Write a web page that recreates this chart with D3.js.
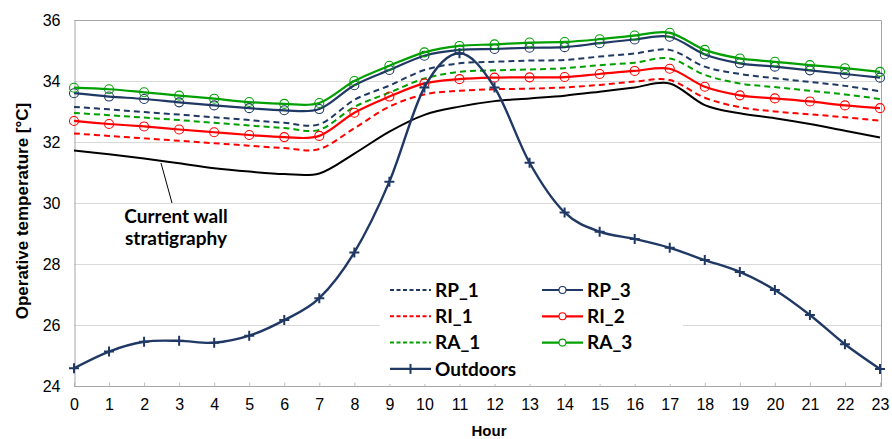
<!DOCTYPE html>
<html>
<head>
<meta charset="utf-8">
<script src="https://cdn.jsdelivr.net/npm/d3@7"></script>
<style>
  body { margin: 0; background: #fff; }
  .tick-label { font-family: "Liberation Sans", Arial, sans-serif; font-size: 16px; fill: #000; }
  .axis-title { font-family: "Liberation Sans", Arial, sans-serif; font-weight: bold; fill: #000; }
  .legend text, .note { font-family: Lato, "Open Sans", sans-serif; font-weight: bold; font-size: 19px; fill: #000; }
</style>
</head>
<body>
<div id="chart"></div>
<script>
// Data
var hours    = [0, 1, 2, 3, 4, 5, 6, 7, 8, 9, 10, 11, 12, 13, 14, 15, 16, 17, 18, 19, 20, 21, 22, 23];
var yTicks   = [24, 26, 28, 30, 32, 34, 36];
var current  = [31.72, 31.6, 31.46, 31.3, 31.14, 31.03, 30.95, 30.97, 31.62, 32.34, 32.89, 33.16, 33.34, 33.43, 33.52, 33.65, 33.79, 33.92, 33.21, 32.94, 32.78, 32.59, 32.37, 32.15];
var rp1      = [33.15, 33.07, 32.98, 32.9, 32.81, 32.72, 32.63, 32.58, 33.38, 33.85, 34.36, 34.58, 34.63, 34.67, 34.69, 34.8, 34.9, 35.02, 34.47, 34.23, 34.09, 33.97, 33.84, 33.66];
var ri1      = [32.28, 32.2, 32.12, 32.04, 31.96, 31.88, 31.8, 31.77, 32.45, 33.16, 33.56, 33.68, 33.73, 33.75, 33.79, 33.87, 33.98, 34.03, 33.45, 33.14, 33.0, 32.91, 32.81, 32.7];
var ra1      = [32.95, 32.88, 32.8, 32.72, 32.63, 32.54, 32.46, 32.4, 33.15, 33.62, 34.08, 34.3, 34.35, 34.38, 34.42, 34.52, 34.6, 34.74, 34.2, 33.92, 33.8, 33.68, 33.56, 33.41];
var rp3      = [33.6, 33.49, 33.41, 33.3, 33.2, 33.11, 33.04, 33.08, 33.86, 34.36, 34.83, 35.02, 35.05, 35.09, 35.11, 35.24, 35.36, 35.45, 34.87, 34.58, 34.47, 34.35, 34.23, 34.11];
var ri2      = [32.69, 32.59, 32.51, 32.41, 32.32, 32.23, 32.16, 32.2, 32.96, 33.49, 33.92, 34.06, 34.11, 34.12, 34.13, 34.23, 34.33, 34.4, 33.81, 33.53, 33.43, 33.33, 33.2, 33.11];
var ra3      = [33.78, 33.73, 33.63, 33.52, 33.42, 33.31, 33.25, 33.28, 34.0, 34.5, 34.94, 35.15, 35.2, 35.26, 35.28, 35.37, 35.49, 35.58, 35.02, 34.74, 34.63, 34.52, 34.42, 34.3];
var outdoors = [24.58, 25.13, 25.45, 25.48, 25.42, 25.65, 26.16, 26.88, 28.38, 30.7, 33.79, 34.91, 33.79, 31.32, 29.69, 29.06, 28.82, 28.53, 28.13, 27.74, 27.15, 26.33, 25.37, 24.56];

var series = [
  { name: "Current", values: current,  color: "#000000", dash: null,  marker: null,     width: 2 },
  { name: "RI_1",    values: ri1,      color: "#ff0000", dash: "6,4", marker: null,     width: 2 },
  { name: "RA_1",    values: ra1,      color: "#00a000", dash: "6,4", marker: null,     width: 2 },
  { name: "RP_1",    values: rp1,      color: "#1f3864", dash: "6,4", marker: null,     width: 2 },
  { name: "RI_2",    values: ri2,      color: "#ff0000", dash: null,  marker: "circle", width: 2.2 },
  { name: "RP_3",    values: rp3,      color: "#1f3864", dash: null,  marker: "circle", width: 2.2 },
  { name: "RA_3",    values: ra3,      color: "#00a000", dash: null,  marker: "circle", width: 2.2 },
  { name: "Outdoors", values: outdoors, color: "#1f3864", dash: null, marker: "plus",   width: 2.4 }
];

var legendItems = [
  ["RP_1", "RP_3"],
  ["RI_1", "RI_2"],
  ["RA_1", "RA_3"],
  ["Outdoors", null]
];

var W = 892, H = 439;
var plot = { left: 74, right: 880, top: 20, bottom: 386 };

var x = d3.scaleLinear().domain([0, 23]).range([plot.left, plot.right]);
var y = d3.scaleLinear().domain([24, 36]).range([plot.bottom, plot.top]);

var svg = d3.select("#chart").append("svg")
  .attr("width", W)
  .attr("height", H);

// Gridlines
svg.append("g")
  .selectAll("line")
  .data(yTicks.slice(1))
  .enter().append("line")
    .attr("x1", plot.left).attr("x2", plot.right + 1)
    .attr("y1", function(d) { return Math.round(y(d)) + 0.5; })
    .attr("y2", function(d) { return Math.round(y(d)) + 0.5; })
    .attr("stroke", "#d9d9d9");

// Plot frame (top / right)
svg.append("path")
  .attr("d", "M" + (plot.left + 0.5) + "," + (plot.top + 0.5) + "H" + (plot.right + 1.5) + "V" + (plot.bottom + 0.5))
  .attr("fill", "none")
  .attr("stroke", "#a6a6a6");

// Axes
var xAxis = d3.axisBottom(x).tickValues(hours).tickSize(-4).tickPadding(12);
var gx = svg.append("g")
  .attr("transform", "translate(0," + (plot.bottom + 0.5) + ")")
  .call(xAxis);
gx.select(".domain").attr("stroke", "#a6a6a6").attr("d", "M" + plot.left + ",0H" + (plot.right + 1.5));
gx.selectAll(".tick line").attr("stroke", "#bfbfbf");
gx.selectAll(".tick text").attr("class", "tick-label").attr("font-size", null).attr("font-family", null);

var yAxis = d3.axisLeft(y).tickValues(yTicks).tickSize(0).tickPadding(14);
var gy = svg.append("g")
  .attr("transform", "translate(" + (plot.left + 0.5) + ",0)")
  .call(yAxis);
gy.select(".domain").attr("stroke", "#a6a6a6");
gy.selectAll(".tick text").attr("class", "tick-label").attr("font-size", null).attr("font-family", null);

svg.append("text")
  .attr("class", "axis-title")
  .attr("font-size", 17)
  .attr("text-anchor", "middle")
  .attr("transform", "translate(28,211) rotate(-90)")
  .text("Operative temperature [°C]");

svg.append("text")
  .attr("class", "axis-title")
  .attr("font-size", 15)
  .attr("text-anchor", "middle")
  .attr("x", 489)
  .attr("y", 436)
  .text("Hour");

// Legend background (drawn before lines, the box hides gridlines)
svg.append("rect")
  .attr("x", 380).attr("y", 272)
  .attr("width", 303).attr("height", 112)
  .attr("fill", "#fff");

// Lines
var line = d3.line()
  .x(function(d, i) { return x(hours[i]); })
  .y(function(d) { return y(d); })
  .curve(d3.curveCardinal.tension(0));

var groups = svg.append("g").selectAll("g.series")
  .data(series)
  .enter().append("g")
    .attr("class", "series");

groups.append("path")
  .attr("d", function(d) { return line(d.values); })
  .attr("fill", "none")
  .attr("stroke", function(d) { return d.color; })
  .attr("stroke-width", function(d) { return d.width; })
  .attr("stroke-dasharray", function(d) { return d.dash; });

groups.each(function(s) {
  var g = d3.select(this);
  if (s.marker == "circle") {
    g.selectAll("circle")
      .data(s.values)
      .enter().append("circle")
        .attr("cx", function(d, i) { return x(hours[i]); })
        .attr("cy", function(d) { return y(d); })
        .attr("r", 4.5)
        .attr("fill", "none")
        .attr("stroke", s.color)
        .attr("stroke-width", 1.1);
  } else if (s.marker == "plus") {
    g.selectAll("path.plus")
      .data(s.values)
      .enter().append("path")
        .attr("class", "plus")
        .attr("d", function(d, i) {
          var cx = x(hours[i]), cy = y(d);
          return "M" + (cx - 5) + "," + cy + "H" + (cx + 5) + "M" + cx + "," + (cy - 5) + "V" + (cy + 5);
        })
        .attr("stroke", s.color)
        .attr("stroke-width", 2);
  }
});

// Annotation for current wall
svg.append("line")
  .attr("x1", 161).attr("y1", 163)
  .attr("x2", 172).attr("y2", 203)
  .attr("stroke", "#000")
  .attr("stroke-width", 1);

svg.append("text").attr("class", "note")
  .attr("x", 176).attr("y", 223)
  .attr("text-anchor", "middle")
  .text("Current wall");
svg.append("text").attr("class", "note")
  .attr("x", 176).attr("y", 245)
  .attr("text-anchor", "middle")
  .text("stratigraphy");

// Legend
var byName = {};
series.forEach(function(s) { byName[s.name] = s; });

var legend = svg.append("g").attr("class", "legend");
var colX = [390, 542], rowY = 290, rowStep = 26.3;

legendItems.forEach(function(row, r) {
  row.forEach(function(name, c) {
    if (!name) return;
    var s = byName[name];
    var ly = rowY + r * rowStep;
    var g = legend.append("g").attr("transform", "translate(" + colX[c] + "," + ly + ")");
    g.append("line")
      .attr("x1", 0).attr("x2", 41)
      .attr("stroke", s.color)
      .attr("stroke-width", s.width)
      .attr("stroke-dasharray", s.dash ? "4,2.5" : null);
    if (s.marker == "circle") {
      g.append("circle").attr("cx", 20.5).attr("r", 3.5)
        .attr("fill", "#fff").attr("stroke", s.color).attr("stroke-width", 1.1);
    } else if (s.marker == "plus") {
      g.append("path").attr("d", "M20.5,-5V5")
        .attr("stroke", s.color).attr("stroke-width", 2);
    }
    g.append("text")
      .attr("x", 45)
      .attr("dy", "0.35em")
      .text(name);
  });
});
</script>
</body>
</html>
